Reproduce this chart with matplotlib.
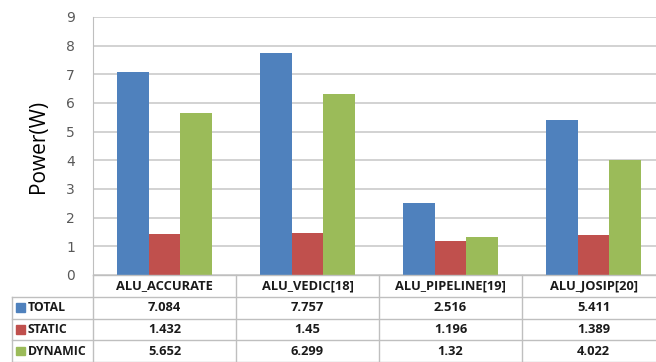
import matplotlib.pyplot as plt
from matplotlib.patches import Rectangle
import numpy as np

designs = ["ALU_ACCURATE", "ALU_VEDIC[18]", "ALU_PIPELINE[19]", "ALU_JOSIP[20]"]
series = ["TOTAL", "STATIC", "DYNAMIC"]
total = [7.084, 7.757, 2.516, 5.411]
static = [1.432, 1.45, 1.196, 1.389]
dynamic = [5.652, 6.299, 1.32, 4.022]
table_text = [["7.084", "7.757", "2.516", "5.411"],
              ["1.432", "1.45", "1.196", "1.389"],
              ["5.652", "6.299", "1.32", "4.022"]]
colors = ["#4f81bd", "#c0504d", "#9bbb59"]

W, H = 656, 362
fig = plt.figure(figsize=(W / 100, H / 100), dpi=100)
fig.patch.set_facecolor("white")

# chart area, the right end runs a little past the image edge
x_left, y_top, y_bot, cat_w = 93, 17, 275, 143
ax = fig.add_axes([x_left / W, (H - y_bot) / H, 4 * cat_w / W, (y_bot - y_top) / H])

x = np.arange(len(designs)) + 0.5
bw = 0.22
for k, vals in enumerate([total, static, dynamic]):
    ax.bar(x + (k - 1) * bw, vals, bw, color=colors[k], zorder=3)

ax.set_xlim(0, 4)
ax.set_ylim(0, 9)
ax.set_yticks(range(10))
ax.set_xticks([])
ax.yaxis.grid(True, color="#cfcfcf", lw=1.3, zorder=0)
for s in ["top", "right", "bottom"]:
    ax.spines[s].set_visible(False)
ax.spines["left"].set_color("#bfbfbf")
ax.tick_params(axis="y", length=0, pad=13, labelsize=10, labelcolor="#595959")
ax.set_ylabel("Power(W)", family="Open Sans", fontsize=15, labelpad=12)

# data table under the bars
tab = fig.add_axes([x_left / W, 0, 4 * cat_w / W, (H - y_bot) / H])
tab.set_xlim(0, 4)
tab.set_ylim(4, 0)
tab.axis("off")
gc = "#bfbfbf"
x_lab = (12 - x_left) / cat_w
tab.plot([0, 4], [0, 0], color=gc, lw=1, clip_on=False)
for r in range(1, 5):
    tab.plot([x_lab, 4], [r, r], color=gc, lw=1, clip_on=False)
tab.plot([x_lab, x_lab], [1, 4], color=gc, lw=1, clip_on=False)
for c in range(5):
    tab.plot([c, c], [0, 4], color=gc, lw=1, clip_on=False)

tfont = dict(family="Open Sans", fontweight="bold", fontsize=9.3, color="#1a1a1a")
for c, name in enumerate(designs):
    tab.text(c + 0.5, 0.5, name, ha="center", va="center", **tfont)
for r, name in enumerate(series):
    sq = 9 / cat_w
    tab.add_patch(Rectangle(((16 - x_left) / cat_w, r + 1.5 - 0.2), sq, 0.4,
                            color=colors[r], clip_on=False))
    tab.text((28 - x_left) / cat_w, r + 1.5, name, ha="left", va="center",
             **{**tfont, "fontsize": 8.8})
    for c in range(len(designs)):
        tab.text(c + 0.5, r + 1.5, table_text[r][c], ha="center", va="center", **tfont)

fig.savefig("out.png", dpi=100)
